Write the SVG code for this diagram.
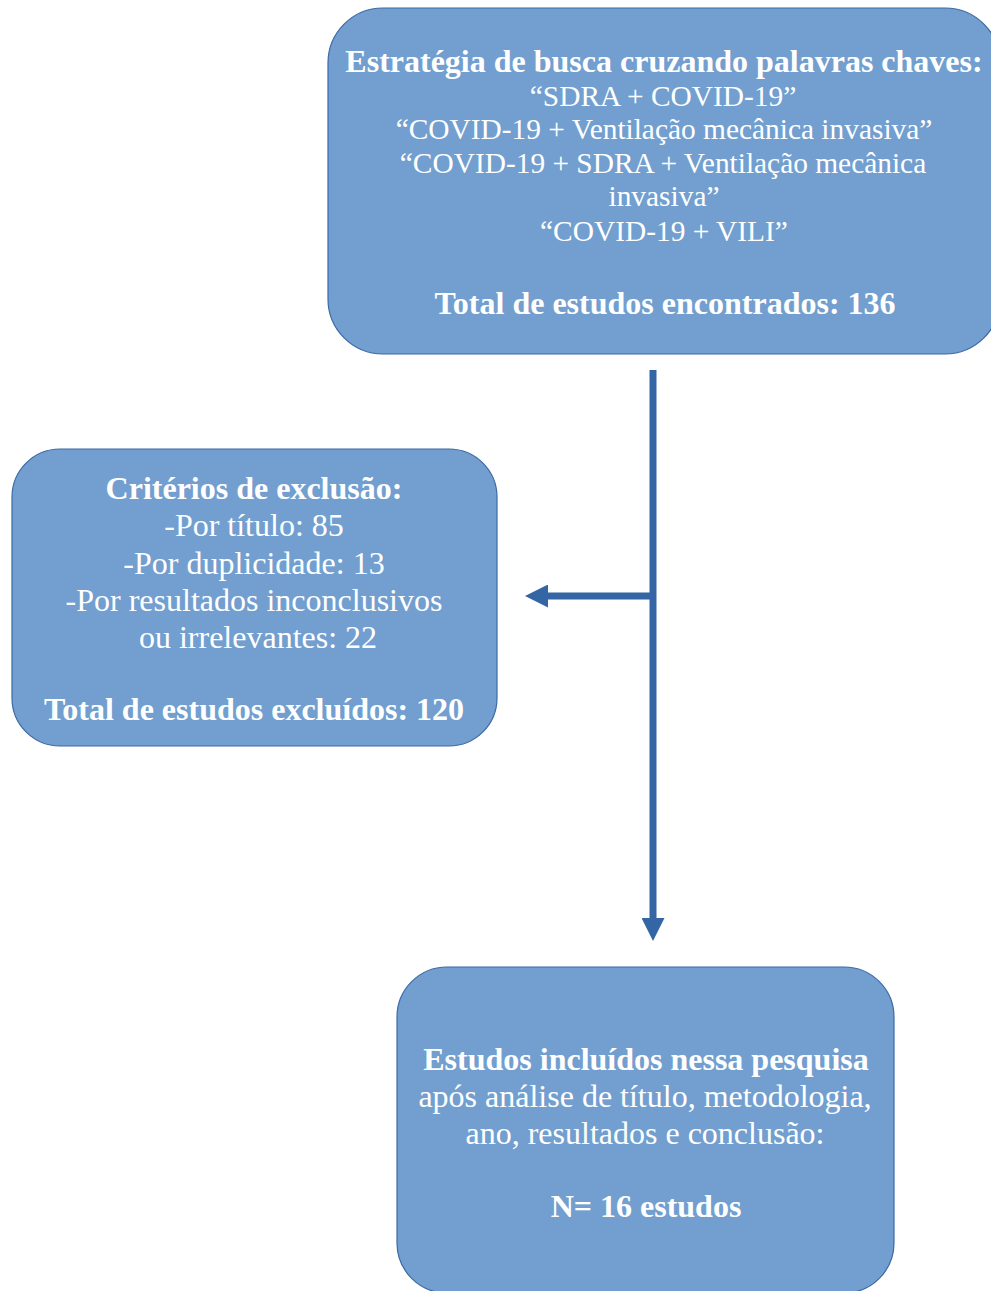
<svg xmlns="http://www.w3.org/2000/svg" width="991" height="1291" viewBox="0 0 991 1291">
  <style>
    .box { fill: #729FCF; stroke: #3B69A6; stroke-width: 1.2; }
    .t { font-family: "Liberation Serif", "Times New Roman", serif; fill: #FFFFFF; text-anchor: middle; }
    .b { font-weight: bold; }
    .conn { stroke: #3465A4; stroke-width: 7; fill: none; }
  </style>
  <defs>
    <marker id="ah" markerUnits="userSpaceOnUse" markerWidth="23" markerHeight="23" viewBox="0 0 23 23" refX="0" refY="11.5" orient="auto">
      <path d="M0,0 L23,11.5 L0,23 z" fill="#3465A4"/>
    </marker>
  </defs>
  <rect width="991" height="1291" fill="#FFFFFF"/>

  <g id="connectors">
    <line class="conn" x1="653" y1="370" x2="653" y2="918" marker-end="url(#ah)"/>
    <line class="conn" x1="656" y1="596" x2="548" y2="596" marker-end="url(#ah)"/>
  </g>

  <g id="node-search">
    <rect class="box" x="328" y="8" width="672" height="346" rx="55" ry="55"/>
    <text class="t b" x="664" y="72" font-size="32">Estratégia de busca cruzando palavras chaves:</text>
    <text class="t" x="663" y="106" font-size="29.4">“SDRA + COVID-19”</text>
    <text class="t" x="664" y="139" font-size="29.4">“COVID-19 + Ventilação mecânica invasiva”</text>
    <text class="t" x="663" y="173" font-size="29.4">“COVID-19 + SDRA + Ventilação mecânica</text>
    <text class="t" x="664" y="206" font-size="29.4">invasiva”</text>
    <text class="t" x="664" y="241" font-size="29.4">“COVID-19 + VILI”</text>
    <text class="t b" x="665" y="314" font-size="32">Total de estudos encontrados: 136</text>
  </g>

  <g id="node-excluded">
    <rect class="box" x="12" y="449" width="485" height="297" rx="48" ry="48"/>
    <text class="t b" x="254" y="499" font-size="32">Critérios de exclusão:</text>
    <text class="t" x="254" y="536" font-size="32">-Por título: 85</text>
    <text class="t" x="254" y="574" font-size="32">-Por duplicidade: 13</text>
    <text class="t" x="254" y="611" font-size="32">-Por resultados inconclusivos</text>
    <text class="t" x="258" y="648" font-size="32">ou irrelevantes: 22</text>
    <text class="t b" x="254" y="720" font-size="32">Total de estudos excluídos: 120</text>
  </g>

  <g id="node-included">
    <rect class="box" x="397" y="967" width="497" height="326" rx="50" ry="50"/>
    <text class="t b" x="646" y="1070" font-size="32">Estudos incluídos nessa pesquisa</text>
    <text class="t" x="645" y="1107" font-size="32">após análise de título, metodologia,</text>
    <text class="t" x="645" y="1144" font-size="32">ano, resultados e conclusão:</text>
    <text class="t b" x="646" y="1217" font-size="32">N= 16 estudos</text>
  </g>
</svg>
